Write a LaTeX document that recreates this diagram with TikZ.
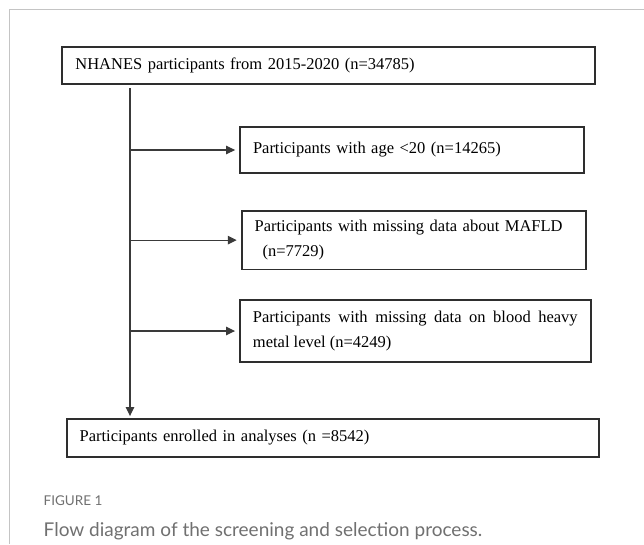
\documentclass[tikz,border=0pt]{standalone}
\usepackage{fontspec}
\setmainfont{Liberation Serif}
\newfontfamily\capfont{Lato}
\usetikzlibrary{arrows.meta}

\definecolor{framegray}{HTML}{C4C4C4}
\definecolor{capgray}{HTML}{707070}
\definecolor{boxline}{HTML}{2E2E2E}
\definecolor{flowline}{HTML}{3A3A3A}

\tikzset{
  stagebox/.style={draw=boxline, line width=1.8pt, inner xsep=13pt, inner ysep=0pt,
    align=left, font=\fontsize{16.5}{24.5}\selectfont},
  flow/.style={draw=flowline, line width=1.1pt, -{Triangle[length=9pt,width=8.5pt]}},
  captext/.style={anchor=west, inner sep=0pt, text=capgray}
}

\begin{document}
\begin{tikzpicture}[x=1pt, y=-1pt]
\useasboundingbox (0,0) rectangle (644,544);
\draw[framegray, line width=1.3pt] (9.3,544) -- (9.3,9.3) -- (644,9.3);

\node[stagebox, text width=506.7pt, minimum height=37.3pt] (nhanes) at (328.7,65.4)
  {NHANES participants from 2015-2020 (n=34785)};
\node[stagebox, text width=318pt, minimum height=46pt] (age) at (412,150)
  {Participants with age <20 (n=14265)};
\node[stagebox, text width=318.3pt, minimum height=58.8pt] (mafld) at (413.8,240.1)
  {Participants with missing data about MAFLD\\\hspace*{8pt}(n=7729)};
\node[stagebox, align=justify, text width=324.7pt, minimum height=62pt] (metal) at (415.3,331)
  {Participants with missing data on blood heavy\linebreak metal level (n=4249)};
\node[stagebox, text width=506.3pt, minimum height=37.7pt] (enroll) at (332.8,437.8)
  {Participants enrolled in analyses (n =8542)};

\coordinate (split) at (130,88);
\draw[flow, shorten >=2pt] (split) -- (split |- enroll.north);
\draw[flow, shorten >=4pt] (split |- age.west) -- (age.west);
\draw[flow, shorten >=4pt] (split |- mafld.west) -- (mafld.west);
\draw[flow, shorten >=4pt] (split |- metal.west) -- (metal.west);

\node[captext, font=\capfont\fontsize{13.5}{16}\selectfont] (figlabel) at (43.5,501) {FIGURE 1};
\node[captext, font=\capfont\fontsize{19}{22}\selectfont] (figcaption) at (43.5,531)
  {Flow diagram of the screening and selection process.};
\end{tikzpicture}
\end{document}
